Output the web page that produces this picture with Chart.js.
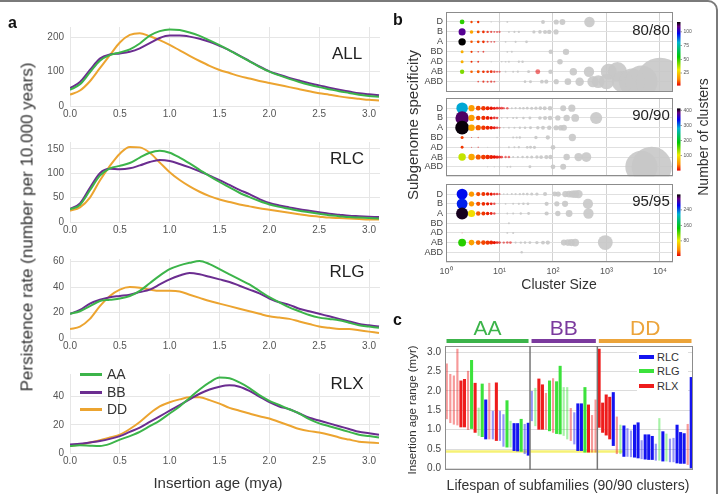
<!DOCTYPE html>
<html><head><meta charset="utf-8">
<script src="https://cdn.jsdelivr.net/npm/chart.js@4.4.1/dist/chart.umd.min.js"></script>
<style>
html,body{margin:0;padding:0;background:#fff;}
#wrap{position:relative;width:720px;height:494px;overflow:hidden;background:#fff;font-family:'Liberation Sans',Arial,Helvetica,sans-serif;}
canvas{position:absolute;}
.t{position:absolute;white-space:nowrap;line-height:1;}
#outer{position:absolute;left:-14px;top:0;width:732px;height:530px;border:2px solid #7a7a7a;border-radius:10px;box-sizing:border-box;}
</style></head><body><div id="wrap"><div id="outer"></div></div>
<script>
// ---------------- DATA ----------------
// Panel a: persistence rate vs insertion age (mya)
const ageX = [0.0,0.1,0.2,0.3,0.4,0.5,0.6,0.7,0.8,0.9,1.0,1.1,1.2,1.3,1.4,1.5,1.6,1.7,1.8,1.9,2.0,2.1,2.2,2.3,2.4,2.5,2.6,2.7,2.8,2.9,3.0,3.1];
const ALL_AA = [47,63,98,132,148,156,165,182,205,218,223,221,214,204,191,177,162,146,130,114,100,89,79,70,62,55,49,43,38,33,29,27];
const ALL_BB = [52,70,105,138,150,153,158,168,183,198,205,205,202,196,187,175,162,147,131,115,101,91,82,74,66,60,53,47,42,37,34,31];
const ALL_DD = [33,45,72,110,148,185,207,212,203,192,178,162,146,131,117,105,96,87,80,73,67,61,55,49,43,37,33,28,24,21,18,16];
const RLC_AA = [26,35,65,95,110,115,121,132,142,146,142,132,120,107,94,82,71,60,51,43,36,31,27,23,20,17,14,12,10,9,8,7];
const RLC_BB = [27,38,70,100,109,108,110,116,123,127,125,119,112,104,95,86,76,66,57,47,39,34,30,26,23,20,17,15,13,12,11,10];
const RLC_DD = [23,30,50,85,115,140,154,153,142,122,102,86,73,62,53,46,41,36,32,28,25,22,19,16,13,11,9,8,7,6,5,5];
const RLG_AA = [19,21,25,29,30,31,33,37,43,49,54,57,59,60.5,58,54,50,46,42,37,32,28,24,21,18,16,15,14,12,10,9,8];
const RLG_BB = [19,22,27,30,32,33,34,36,38,42,46,49,51,50,48,46,44,41,38,35,31,28,26,23,21,19,17,15,13,11,10,9];
const RLG_DD = [7,9,15,25,33,38,40,39.5,38,37,37,36.5,34,31.5,29,27,25,23,21,19,17,16,15,13,11,9,8,7,7,6,5,4];
const RLX_AA = [5,5.5,5.2,5,6.5,9.5,12,15,19,23,28,33,39,45,50,53.5,53,50,46,41,37,34,31,28,24,21,19,17,15,13,12,11];
const RLX_BB = [6,6.5,7.5,8.5,10,12,15,18,22,26,30,34,38,42,45,47,48,47,44,40,36,33,31,28,25,23,21,19,17,15,14,13];
const RLX_DD = [5,6,7.5,9,11,13,17,22,28,33,36,38,39.5,39.5,37.5,35,32,30,28,26,24.5,22,19.5,17,15.5,14.5,13,11,9.5,8,7.5,7];
const ageTicksA = [0,0.5,1,1.5,2,2.5,3];

// Panel b: [cluster size, subgenome, number of clusters]
const rowsB = ['D','B','A','BD','AD','AB','ABD'];
const decadeTicks = [1,10,100,1000,10000];
const b80 = [
[2,'D',50],[3,'D',8],[4,'D',6],[7,'D',1],[10,'D',1],[14,'D',1],[65,'D',1],[115,'D',1],[150,'D',1],[480,'D',1],
[2,'B',108],[3,'B',18],[4,'B',9],[5,'B',6],[6,'B',4],[7,'B',3],[8,'B',2],[9,'B',2],[10,'B',2],[15,'B',1],[19,'B',1],[23,'B',1],[44,'B',1],[57,'B',1],[71,'B',1],[85,'B',1],[114,'B',1],
[2,'A',118],[3,'A',9],[4,'A',8],[5,'A',6],[6,'A',3],[7,'A',2],[8,'A',2],[13,'A',1],[20,'A',1],[32,'A',1],
[2,'BD',20],[3,'BD',7],[4,'BD',3],[5,'BD',3],[14,'BD',1],[17,'BD',1],[91,'BD',1],[175,'BD',1],
[2,'AD',20],[3,'AD',6],[4,'AD',4],[7,'AD',1],[11,'AD',1],[13,'AD',1],[15,'AD',1],[23,'AD',1],[27,'AD',1],[135,'AD',1],
[2,'AB',42],[3,'AB',10],[4,'AB',9],[5,'AB',6],[6,'AB',5],[7,'AB',5],[8,'AB',3],[9,'AB',2],[10,'AB',2],[13,'AB',1],[18,'AB',1],[22,'AB',1],[35,'AB',1],[52,'AB',2],[90,'AB',1],[240,'AB',1],[470,'AB',1],[1100,'AB',1],[1600,'AB',1],
[4,'ABD',3],[5,'ABD',4],[6,'ABD',3],[7,'ABD',3],[8,'ABD',2],[30,'ABD',1],[38,'ABD',1],[62,'ABD',1],[75,'ABD',1],[115,'ABD',1],[190,'ABD',1],[315,'ABD',1],[560,'ABD',1],[700,'ABD',1],[1000,'ABD',1],[2000,'ABD',1],[3000,'ABD',1],[4500,'ABD',1],[10000,'ABD',1]
];
const b90 = [
[2,'D',285],[3,'D',55],[4,'D',25],[5,'D',18],[6,'D',12],[7,'D',8],[8,'D',5],[9,'D',4],[10,'D',3],[11,'D',3],[12,'D',2],[14,'D',2],[17,'D',1],[20,'D',1],[24,'D',1],[28,'D',1],[33,'D',1],[40,'D',1],[48,'D',1],[58,'D',1],[70,'D',1],[88,'D',1],[155,'D',1],[225,'D',1],
[2,'B',390],[3,'B',55],[4,'B',22],[5,'B',16],[6,'B',10],[7,'B',6],[8,'B',4],[9,'B',3],[11,'B',1],[14,'B',1],[18,'B',1],[21,'B',1],[28,'B',1],[37,'B',1],[57,'B',1],[71,'B',1],[88,'B',1],[123,'B',1],[180,'B',1],[260,'B',1],[640,'B',1],
[2,'A',410],[3,'A',60],[4,'A',30],[5,'A',18],[6,'A',12],[7,'A',8],[8,'A',5],[9,'A',3],[10,'A',2],[12,'A',1],[15,'A',1],[19,'A',1],[24,'A',1],[30,'A',1],[38,'A',1],[52,'A',1],[65,'A',1],[85,'A',1],[114,'A',1],[140,'A',1],[160,'A',1],
[2,'BD',20],[3,'BD',2],[4,'BD',2],[9,'BD',1],[18,'BD',1],[21,'BD',1],[24,'BD',1],[48,'BD',1],[80,'BD',1],[230,'BD',1],
[2,'AD',18],[3,'AD',2],[4,'AD',2],[6,'AD',1],[10,'AD',1],[15,'AD',1],[19,'AD',1],[23,'AD',1],[33,'AD',1],[38,'AD',1],[45,'AD',1],[100,'AD',1],
[2,'AB',120],[3,'AB',60],[4,'AB',28],[5,'AB',20],[6,'AB',14],[7,'AB',10],[8,'AB',7],[9,'AB',5],[10,'AB',4],[11,'AB',3],[13,'AB',2],[15,'AB',2],[18,'AB',1],[22,'AB',1],[27,'AB',1],[33,'AB',1],[40,'AB',1],[50,'AB',1],[60,'AB',1],[75,'AB',1],[90,'AB',1],[180,'AB',1],[300,'AB',1],[420,'AB',1],
[6,'ABD',1],[8,'ABD',1],[10,'ABD',1],[14,'ABD',1],[16,'ABD',1],[37,'ABD',1],[100,'ABD',1],[155,'ABD',1],[4500,'ABD',1],[7000,'ABD',1]
];
const b95 = [
[2,'D',260],[3,'D',40],[4,'D',20],[5,'D',14],[6,'D',9],[7,'D',6],[8,'D',4],[9,'D',3],[10,'D',2],[12,'D',1],[14,'D',1],[17,'D',1],[20,'D',1],[24,'D',1],[28,'D',1],[33,'D',1],[40,'D',1],[50,'D',1],[71,'D',1],[108,'D',1],[125,'D',1],[170,'D',1],[200,'D',1],[230,'D',1],[260,'D',1],[300,'D',1],
[2,'B',255],[3,'B',40],[4,'B',20],[5,'B',12],[6,'B',8],[7,'B',5],[8,'B',3],[10,'B',1],[13,'B',1],[18,'B',1],[23,'B',1],[28,'B',1],[34,'B',1],[76,'B',1],[118,'B',1],[168,'B',1],[450,'B',1],
[2,'A',315],[3,'A',75],[4,'A',22],[5,'A',14],[6,'A',9],[7,'A',5],[8,'A',3],[10,'A',1],[14,'A',1],[18,'A',1],[25,'A',1],[35,'A',1],[76,'A',1],[123,'A',1],[200,'A',1],[460,'A',1],
[15,'BD',1],
[2,'AD',2],[14,'AD',1],[18,'AD',1],
[2,'AB',135],[3,'AB',45],[4,'AB',25],[5,'AB',18],[6,'AB',14],[7,'AB',10],[8,'AB',6],[9,'AB',4],[10,'AB',3],[12,'AB',2],[14,'AB',2],[16,'AB',2],[20,'AB',1],[25,'AB',1],[30,'AB',1],[37,'AB',1],[50,'AB',1],[65,'AB',1],[80,'AB',1],[160,'AB',1],[190,'AB',1],[220,'AB',1],[260,'AB',1],[950,'AB',1],
[26,'ABD',1]
];
const countRange80 = [2,118], countRange90 = [2,412], countRange95 = [2,320];
const cbTicks80 = [25,50,75,100], cbTicks90 = [100,200,300,400], cbTicks95 = [80,160,240];

// Panel c: insertion age ranges of subfamilies (90/90 clusters)
const groupNames = ['AA','BB','DD'];
const groupSizes = [24,19,27];
const ageLow = [1.28,1.18,1.14,1.12,1.07,1.07,1.00,1.03,0.93,0.85,0.82,0.76,0.76,0.76,0.72,0.72,0.57,0.55,0.55,0.46,0.45,0.44,0.38,0.34,
 1.23,1.10,1.01,1.01,1.01,0.97,0.93,0.90,0.89,0.85,0.76,0.72,0.63,0.46,0.46,0.42,0.42,0.42,0.42,
 1.06,0.93,0.86,0.76,0.59,0.38,0.38,0.31,0.31,0.30,0.29,0.27,0.25,0.24,0.23,0.23,0.21,0.21,0.19,0.19,0.17,0.17,0.14,0.13,0.13,0.10,0.00];
const ageHigh = [2.70,2.43,2.39,3.08,2.26,2.30,2.51,2.79,2.20,1.56,2.18,1.77,2.20,1.48,2.21,1.48,1.39,1.75,1.22,1.16,1.16,1.27,1.14,1.17,
 1.99,2.07,2.31,2.16,1.94,2.26,2.32,2.24,2.64,2.09,2.09,1.55,1.44,1.67,1.67,2.09,1.64,1.37,1.77,
 3.08,1.69,1.90,1.84,1.96,1.33,1.12,1.10,1.03,0.97,1.12,1.18,0.72,0.87,0.87,0.83,0.63,1.29,0.95,0.89,0.76,0.78,1.12,0.93,0.90,1.14,2.35];
const teType = ['RLX','RLX','RLX','RLX','RLX','RLX','RLX','RLG','RLX','RLG','RLG','RLC','RLX','RLC','RLX','RLC','RLC','RLG','RLG','RLC','RLC','RLG','RLC','RLC',
 'RLC','RLG','RLX','RLX','RLX','RLG','RLX','RLG','RLG','RLG','RLG','RLX','RLC','RLC','RLC','RLG','RLX','RLX','RLX',
 'RLX','RLX','RLX','RLX','RLC','RLX','RLG','RLC','RLC','RLC','RLC','RLC','RLC','RLC','RLC','RLC','RLC','RLG','RLC','RLG','RLC','RLC','RLC','RLC','RLC','RLX','RLC'];
const teSupport = [0.5,0.5,0.5,0.5,1,1,0.5,1,1,0.5,1,1,0.5,0.5,1,0.5,0.5,1,0.5,1,1,1,0.5,1,
 0.5,0.5,1,1,0.5,1,0.5,1,1,0.5,0.5,0.5,0.5,1,1,1,1,0.5,0.5,
 1,1,1,1,1,0.5,0.5,1,0.5,0.5,1,1,0.5,1,1,1,0.5,0.5,1,0.5,0.5,0.5,1,1,1,0.5,1];
const ageThreshold = 0.44;
const thresholdEndIndex = 50;

// ---------------- RENDERING ----------------
Chart.defaults.font.family = "'Liberation Sans', Arial, Helvetica, sans-serif";
const wrap = document.getElementById('wrap');
function mkCanvas(l,t,w,h){const c=document.createElement('canvas');c.width=w;c.height=h;c.style.left=l+'px';c.style.top=t+'px';c.style.width=w+'px';c.style.height=h+'px';wrap.appendChild(c);return c;}
function txt(s,x,y,size,o){o=o||{};const d=document.createElement('div');d.className='t';d.textContent=s;d.style.left=x+'px';d.style.top=y+'px';d.style.fontSize=size+'px';d.style.color=o.color||'#222';if(o.bold)d.style.fontWeight='bold';d.style.transform=(o.left?'translate(0,-50%)':'translate(-50%,-50%)')+(o.rot?' rotate(-90deg)':'');wrap.appendChild(d);return d;}
function box(l,t,w,h,bg){const d=document.createElement('div');d.style.cssText=`position:absolute;left:${l}px;top:${t}px;width:${w}px;height:${h}px;background:${bg};`;wrap.appendChild(d);return d;}
const base = {devicePixelRatio:1,responsive:false,animation:false,events:[],plugins:{legend:{display:false},tooltip:{enabled:false}}};

// Panel a
const lineCol = {AA:'#3cb44a',BB:'#6b2d90',DD:'#eca430'};
const panelsA = [
  {top:23,bottom:106,yMax:230,step:100,s:[ALL_AA,ALL_BB,ALL_DD]},
  {top:138,bottom:222,yMax:164,step:50,s:[RLC_AA,RLC_BB,RLC_DD]},
  {top:255,bottom:338,yMax:62,step:20,s:[RLG_AA,RLG_BB,RLG_DD]},
  {top:370,bottom:453,yMax:56,step:20,s:[RLX_AA,RLX_BB,RLX_DD]}
];
panelsA.forEach(p=>{
  const ct = p.top-8, ch = p.bottom+21-ct;
  const cv = mkCanvas(0,ct,395,ch);
  new Chart(cv,{type:'line',
    data:{datasets:['AA','BB','DD'].map((k,i)=>({label:k,data:ageX.map((x,j)=>({x,y:p.s[i][j]})),borderColor:lineCol[k],borderWidth:2,pointRadius:0,cubicInterpolationMode:'monotone',fill:false}))},
    options:Object.assign({},base,{
      layout:{autoPadding:false,padding:{top:8,right:15,left:0,bottom:0}},
      scales:{
        x:{type:'linear',min:0,max:3.11,afterFit:s=>{s.height=21;},afterBuildTicks:s=>{s.ticks=ageTicksA.map(v=>({value:v}));},
           grid:{color:'#e6e6e6',drawTicks:false},border:{display:false},
           ticks:{padding:2,color:'#555',font:{size:10},callback:v=>Number(v).toFixed(1),maxRotation:0,autoSkip:false}},
        y:{min:0,max:p.yMax,afterFit:s=>{s.width=70;},grid:{color:'#e6e6e6',drawTicks:false},border:{display:false},
           ticks:{stepSize:p.step,includeBounds:false,padding:6,color:'#555',font:{size:10}}}
      }})
  });
});

// Panel b
const rampStops = [[0,[230,0,0]],[0.1,[255,140,0]],[0.25,[240,235,0]],[0.45,[0,200,0]],[0.68,[0,180,210]],[0.82,[0,0,240]],[0.93,[100,0,130]],[1,[0,0,0]]];
function ramp(t){t=Math.max(0,Math.min(1,t));for(let i=1;i<rampStops.length;i++){const [t1,c1]=rampStops[i];const [t0,c0]=rampStops[i-1];if(t<=t1){const f=(t-t0)/(t1-t0);return c0.map((v,k)=>Math.round(v+(c1[k]-v)*f));}}return [0,0,0];}
function bubbleColor(raw,range){
  if(raw.n<=1) return 'rgba(200,200,200,0.9)';
  const c = ramp((raw.n-range[0])/(range[1]-range[0]));
  const a = raw.n>=6?1:0.3+0.12*raw.n;
  return `rgba(${c[0]},${c[1]},${c[2]},${a})`;
}
const sup = ['\u2070','\u00b9','\u00b2','\u00b3','\u2074'];
const framePlugin = {id:'frame',afterDraw(chart){const {ctx,chartArea:a}=chart;ctx.save();ctx.strokeStyle='#8c8c8c';ctx.lineWidth=1;ctx.strokeRect(Math.round(a.left)+0.5,Math.round(a.top)+0.5,Math.round(a.width)-1,Math.round(a.height)-1);ctx.restore();}};
function colorbarPlugin(range,ticks){
  return {id:'cbar',afterDraw(chart){
    const {ctx,chartArea:a}=chart;const x0=a.right+4,w=3.5,top=a.top+10,bot=a.bottom-6;
    const g=ctx.createLinearGradient(0,bot,0,top);rampStops.forEach(([t,c])=>g.addColorStop(t,`rgb(${c.join(',')})`));
    ctx.save();ctx.fillStyle=g;ctx.fillRect(x0,top,w,bot-top);
    ctx.fillStyle='#555';ctx.font="5px 'Liberation Sans', Arial";ctx.textBaseline='middle';
    ticks.forEach(v=>{const yy=bot-(v-range[0])/(range[1]-range[0])*(bot-top);ctx.fillRect(x0+w,yy-0.3,1.5,0.6);ctx.fillText(String(v),x0+w+3,yy);});
    ctx.restore();}};
}
function bubbleChart(list,range,ticks,ctop,ch,padTop,padBot,showX){
  const cv = mkCanvas(395,ctop,325,ch);
  new Chart(cv,{type:'bubble',
    data:{datasets:[{data:list.map(([s,row,n])=>({x:s,y:7-rowsB.indexOf(row),r:0.24*Math.sqrt(s*n),n})),
      backgroundColor:ctx=>bubbleColor(ctx.raw,range),borderWidth:0,clip:0}]},
    options:Object.assign({},base,{
      layout:{autoPadding:false,padding:{top:padTop,right:47,left:0,bottom:padBot}},
      scales:{
        x:{type:'logarithmic',min:1,max:17500,afterBuildTicks:s=>{s.ticks=decadeTicks.map(v=>({value:v}));},afterFit:s=>{s.height=showX?18:0;},
           grid:{color:'#d2d2d2',drawTicks:false},border:{display:false},
           ticks:{display:showX,padding:4,font:{size:9},color:'#555',autoSkip:false,maxRotation:0,callback:v=>'10'+sup[Math.round(Math.log10(v))]}},
        y:{type:'linear',min:0,max:8,afterFit:s=>{s.width=51;},grid:{color:'#e0e0e0',drawTicks:false},border:{display:false},
           ticks:{stepSize:1,autoSkip:false,padding:3,font:{size:9},color:'#444',callback:v=>(v>=1&&v<=7)?rowsB[7-v]:''}}
      }}),
    plugins:[framePlugin,colorbarPlugin(range,ticks)]
  });
}
bubbleChart(b80,countRange80,cbTicks80,0,100,12,7,false);
bubbleChart(b90,countRange90,cbTicks90,90,95,7,7,false);
bubbleChart(b95,countRange95,cbTicks95,176,104,7,0,true);

// Panel c
const teCol = {RLC:[20,20,240],RLG:[60,226,60],RLX:[238,28,28]};
const cDatasets = [];
[0.5,1].forEach(w=>['RLC','RLG','RLX'].forEach(t=>{
  const c = teCol[t];
  cDatasets.push({label:t,data:ageLow.map((l,i)=>(teType[i]===t&&teSupport[i]===w)?[l,ageHigh[i]]:null),
    backgroundColor:`rgba(${c.join(',')},${w===1?1:0.45})`,borderWidth:0,barThickness:w===1?2.4:1.5,grouped:false});
}));
const groupCol = ['#3cb44a','#7b3a9e','#eca43a'];
const groupPlugin = {id:'groups',
  beforeDatasetsDraw(chart){const {ctx,chartArea:a,scales:{x,y}}=chart;const yy=y.getPixelForValue(ageThreshold);
    ctx.save();ctx.strokeStyle='rgba(246,240,110,0.95)';ctx.lineWidth=2.5;ctx.beginPath();ctx.moveTo(a.left,yy);ctx.lineTo(x.getPixelForValue(thresholdEndIndex),yy);ctx.stroke();ctx.restore();},
  afterDraw(chart){const {ctx,chartArea:a,scales:{x}}=chart;ctx.save();
    ctx.strokeStyle='#8c8c8c';ctx.lineWidth=1;ctx.strokeRect(Math.round(a.left)+0.5,Math.round(a.top)+0.5,Math.round(a.width)-1,Math.round(a.height)-1);
    let start=0;const bounds=[a.left];
    groupSizes.forEach((n,gi)=>{start+=n;if(gi<groupSizes.length-1){const px=(x.getPixelForValue(start-1)+x.getPixelForValue(start))/2;bounds.push(px);
      ctx.strokeStyle='#777';ctx.lineWidth=1.5;ctx.beginPath();ctx.moveTo(px,a.top);ctx.lineTo(px,a.bottom);ctx.stroke();}});
    bounds.push(a.right);
    ctx.font="21px 'Liberation Sans', Arial";ctx.textAlign='center';ctx.textBaseline='middle';
    groupNames.forEach((g,gi)=>{const l=bounds[gi]+1.5,r=bounds[gi+1]-1.5;ctx.fillStyle=groupCol[gi];ctx.fillRect(l,a.top-7,r-l,4);ctx.fillText(g,(l+r)/2,a.top-17);});
    ctx.restore();}
};
const cvC = mkCanvas(395,305,320,175);
new Chart(cvC,{type:'bar',
  data:{labels:ageLow.map((_,i)=>String(i+1)),datasets:cDatasets},
  options:Object.assign({},base,{
    layout:{autoPadding:false,padding:{top:41,right:22,left:0,bottom:0}},
    scales:{
      x:{type:'category',afterFit:s=>{s.height=9;},grid:{display:false},border:{display:false},ticks:{display:false}},
      y:{min:-0.04,max:3.16,afterFit:s=>{s.width=50;},grid:{color:'#dcdcdc',drawTicks:false},border:{display:false},
         ticks:{stepSize:0.5,includeBounds:false,padding:4,font:{size:10},color:'#444',callback:v=>Number(v).toFixed(1)}}
    }}),
  plugins:[groupPlugin]
});

// ---------------- TEXT / LEGENDS ----------------
txt('a',12.5,23,16,{bold:true,color:'#111'});
txt('b',398,20,16,{bold:true,color:'#111'});
txt('c',397.5,320,16,{bold:true,color:'#111'});
txt('ALL',347,53,17);txt('RLC',347,158,17);txt('RLG',347,271,17);txt('RLX',347,383,17);
txt('Persistence rate (number per 10.000 years)',27,227,17,{rot:true,color:'#333'});
txt('Insertion age (mya)',218,482,15,{color:'#333'});
[['AA',374],['BB',392],['DD',409]].forEach(([k,y])=>{box(80,y-1.5,22,3,lineCol[k]);txt(k,107,y,14,{left:true,color:'#333'});});
txt('Subgenome specificity',412,125,15,{rot:true,color:'#333'});
txt('Number of clusters',703,137,14,{rot:true,color:'#333'});
txt('80/80',651,29,15);txt('90/90',651,114,15);txt('95/95',651,200,15);
txt('Cluster Size',559,284,14,{color:'#333'});
txt('Insertion age range (myr)',413,410,11.5,{rot:true,color:'#333'});
txt('Lifespan of subfamilies (90/90 clusters)',568,485,14,{color:'#333'});
box(637,350,51,42,'#fff');
[['RLC',357],['RLG',371],['RLX',386]].forEach(([k,y])=>{box(639,y-1.75,15,3.5,`rgb(${teCol[k].join(',')})`);txt(k,657,y,11,{left:true,color:'#333'});});
</script></body></html>
